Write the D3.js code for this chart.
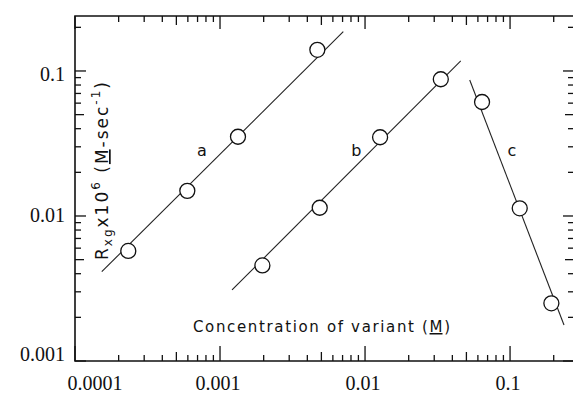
<!DOCTYPE html>
<html>
<head>
<meta charset="utf-8">
<script src="https://cdn.jsdelivr.net/npm/d3@7"></script>
<style>
  body { margin: 0; background: #fff; }
</style>
</head>
<body>
<div id="chart"></div>
<script>
var svgWidth = 573;
var svgHeight = 396;

// concentration of variant (M) vs rate, three variants
var aConc = [0.000233, 0.000595, 0.00133, 0.00469];
var aRate = [0.00574, 0.0149, 0.0352, 0.140];
var bConc = [0.00196, 0.00487, 0.0127, 0.0333];
var bRate = [0.00456, 0.0114, 0.0349, 0.0877];
var cConc = [0.0641, 0.1166, 0.1927];
var cRate = [0.0611, 0.0113, 0.0025];

// fitted lines, start and end point
var aLineConc = [0.000153, 0.00708];
var aLineRate = [0.00413, 0.1866];
var bLineConc = [0.00121, 0.0457];
var bLineRate = [0.00309, 0.1173];
var cLineConc = [0.0527, 0.2355];
var cLineRate = [0.0867, 0.00177];

var seriesNames = ["a", "b", "c"];
var nameConc = [0.00075, 0.0087, 0.103];
var nameRate = [0.026, 0.026, 0.026];

var xTickValues = [0.0001, 0.001, 0.01, 0.1];
var xTickLabels = ["0.0001", "0.001", "0.01", "0.1"];
var yTickValues = [0.001, 0.01, 0.1];
var yTickLabels = ["0.001", "0.01", "0.1"];

var plotLeft = 75, plotRight = 574, plotTop = 16, plotBottom = 361;

var svg = d3.select("#chart")
    .append("svg")
    .attr("width", svgWidth)
    .attr("height", svgHeight);

var x = d3.scaleLog().domain([0.0001, 0.276]).range([plotLeft, plotRight]);
var y = d3.scaleLog().domain([0.001, 0.2394]).range([plotBottom, plotTop]);

// tick length by mantissa: decade long, 5 medium, rest short
function tickLen(v, big) {
    var m = Math.round(v / Math.pow(10, Math.floor(Math.log10(v) + 1e-9)));
    if (m === 1) return big;
    if (m === 5) return 9;
    return 6;
}

var xt = x.ticks();
var yt = y.ticks();

var axes = svg.append("g")
    .attr("stroke", "#111")
    .attr("stroke-width", 1.3);

// bottom and top ticks
axes.selectAll(".bt").data(xt).enter().append("line")
    .attr("x1", d => x(d)).attr("x2", d => x(d))
    .attr("y1", plotBottom).attr("y2", d => plotBottom - tickLen(d, 15));
axes.selectAll(".tt").data(xt).enter().append("line")
    .attr("x1", d => x(d)).attr("x2", d => x(d))
    .attr("y1", plotTop).attr("y2", d => plotTop + tickLen(d, 13));

// left and right ticks
axes.selectAll(".lt").data(yt).enter().append("line")
    .attr("y1", d => y(d)).attr("y2", d => y(d))
    .attr("x1", plotLeft).attr("x2", d => plotLeft + tickLen(d, 11));
axes.selectAll(".rt").data(yt).enter().append("line")
    .attr("y1", d => y(d)).attr("y2", d => y(d))
    .attr("x1", plotRight).attr("x2", d => plotRight - tickLen(d, 11));

// frame
axes.append("path")
    .attr("fill", "none")
    .attr("stroke-width", 1.6)
    .attr("d", `M${plotLeft},${plotTop}H${plotRight}V${plotBottom}H${plotLeft}Z`);

// tick labels
svg.append("g").selectAll("text")
    .data(xTickValues)
    .enter()
    .append("text")
    .attr("x", (d, i) => x(d) + (i === 0 ? 20 : -2))
    .attr("y", 390)
    .attr("text-anchor", "middle")
    .attr("font-family", "Liberation Serif, serif")
    .attr("font-size", "20px")
    .attr("fill", "#111")
    .text((d, i) => xTickLabels[i]);

svg.append("g").selectAll("text")
    .data(yTickValues)
    .enter()
    .append("text")
    .attr("x", 65)
    .attr("y", (d, i) => y(d) + [0, 6, 10][i])
    .attr("text-anchor", "end")
    .attr("font-family", "Liberation Serif, serif")
    .attr("font-size", "20px")
    .attr("fill", "#111")
    .text((d, i) => yTickLabels[i]);

// fitted lines
var lines = [
    [aLineConc, aLineRate],
    [bLineConc, bLineRate],
    [cLineConc, cLineRate]
];
svg.append("g").selectAll("line")
    .data(lines)
    .enter()
    .append("line")
    .attr("x1", d => x(d[0][0]))
    .attr("y1", d => y(d[1][0]))
    .attr("x2", d => x(d[0][1]))
    .attr("y2", d => y(d[1][1]))
    .attr("stroke", "#222")
    .attr("stroke-width", 1.1);

// points
var points = [];
[[aConc, aRate], [bConc, bRate], [cConc, cRate]].forEach(function (s) {
    s[0].forEach(function (c, i) {
        points.push({ conc: c, rate: s[1][i] });
    });
});
svg.append("g").selectAll("circle")
    .data(points)
    .enter()
    .append("circle")
    .attr("cx", d => x(d.conc))
    .attr("cy", d => y(d.rate))
    .attr("r", 7.5)
    .attr("fill", "#fff")
    .attr("stroke", "#111")
    .attr("stroke-width", 1.3);

// series names
svg.append("g").selectAll("text")
    .data(seriesNames)
    .enter()
    .append("text")
    .attr("x", (d, i) => x(nameConc[i]))
    .attr("y", (d, i) => y(nameRate[i]))
    .attr("text-anchor", "middle")
    .attr("font-family", "DejaVu Sans, sans-serif")
    .attr("font-size", "16px")
    .attr("fill", "#111")
    .text(d => d);

// x title
var xTitle = svg.append("text")
    .attr("x", 193)
    .attr("y", 332)
    .attr("font-family", "DejaVu Sans, sans-serif")
    .attr("font-size", "15px")
    .attr("fill", "#111")
    .attr("textLength", 257)
    .attr("lengthAdjust", "spacing");
xTitle.append("tspan").text("Concentration of variant (");
xTitle.append("tspan").style("text-decoration", "underline").text("M");
xTitle.append("tspan").text(")");

// y title
var yTitle = svg.append("text")
    .attr("transform", "translate(108, 171) rotate(-90)")
    .attr("text-anchor", "middle")
    .attr("font-family", "DejaVu Sans, sans-serif")
    .attr("font-size", "17px")
    .attr("fill", "#111")
    .attr("textLength", 178)
    .attr("lengthAdjust", "spacing");
yTitle.append("tspan").text("R");
yTitle.append("tspan").attr("font-size", "12px").attr("dy", 4).text("xg");
yTitle.append("tspan").attr("dy", -4).text("x10");
yTitle.append("tspan").attr("font-size", "12px").attr("dy", -8).text("6");
yTitle.append("tspan").attr("dy", 8).text(" (");
yTitle.append("tspan").style("text-decoration", "underline").text("M");
yTitle.append("tspan").text("-sec");
yTitle.append("tspan").attr("font-size", "12px").attr("dy", -8).text("-1");
yTitle.append("tspan").attr("dy", 8).text(")");
</script>
</body>
</html>
